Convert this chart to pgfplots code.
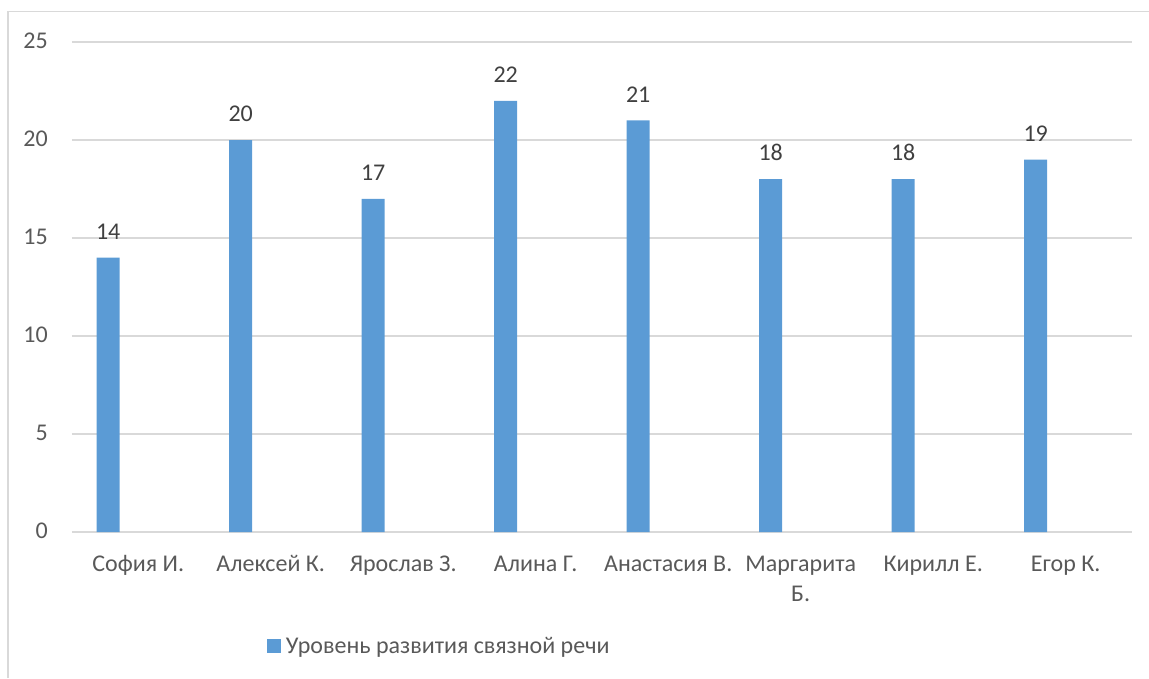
\documentclass[border=0pt]{standalone}
\usepackage{pgfplots}
\pgfplotsset{compat=1.18}
\usepackage{fontspec}
\setmainfont{Carlito}
\definecolor{barblue}{HTML}{5B9BD5}
\definecolor{gridgray}{HTML}{D9D9D9}
\definecolor{txtgray}{HTML}{595959}
\definecolor{lblgray}{HTML}{404040}
\newcommand{\chfont}{\fontsize{24}{30}\selectfont}
\begin{document}
\begin{tikzpicture}
  \path[use as bounding box] (-72pt,-146pt) rectangle (1077pt,532pt);
  % chart area border (only left and top edges are visible)
  \draw[gridgray, line width=1.2pt] (-64pt,-146pt) -- (-64pt,520.5pt) -- (1077pt,520.5pt);
  \begin{axis}[
      scale only axis,
      width=1060pt, height=490pt,
      ybar, bar width=23pt, bar shift=-30pt,
      xmin=-0.5, xmax=7.5,
      ymin=0, ymax=25,
      ytick={0,5,...,25},
      xtick=data,
      xticklabels={София И., Алексей К., Ярослав З., Алина Г., Анастасия В., Маргарита\\Б., Кирилл Е., Егор К.},
      typeset ticklabels with strut,
      major tick length=0pt,
      axis x line*=bottom, axis y line*=left,
      x axis line style={draw=gridgray, line width=1.5pt},
      y axis line style={draw=none},
      ymajorgrids,
      major grid style={draw=gridgray, line width=1.5pt},
      tick label style={font=\chfont, text=txtgray},
      /pgf/number format/assume math mode=true,
      yticklabel style={inner sep=0pt, xshift=-24pt},
      xticklabel style={inner sep=0pt, yshift=-18pt, align=center},
      nodes near coords,
      every node near coord/.append style={font=\chfont, text=lblgray, inner sep=0pt, anchor=south, yshift=18pt},
      legend style={draw=none, at={(0.346,-0.2327)}, anchor=center, font=\chfont, text=txtgray,
                    inner sep=0pt, nodes={inner sep=1pt},
                    /tikz/every odd column/.append style={column sep=4pt}},
      legend image code/.code={\fill[#1, draw=none] (0pt,-6.5pt) rectangle (14pt,7pt);},
    ]
    \addplot[fill=barblue, draw=none] coordinates {
      (0,14) (1,20) (2,17) (3,22) (4,21) (5,18) (6,18) (7,19)
    };
    \addlegendentry{Уровень развития связной речи}
  \end{axis}
\end{tikzpicture}
\end{document}
